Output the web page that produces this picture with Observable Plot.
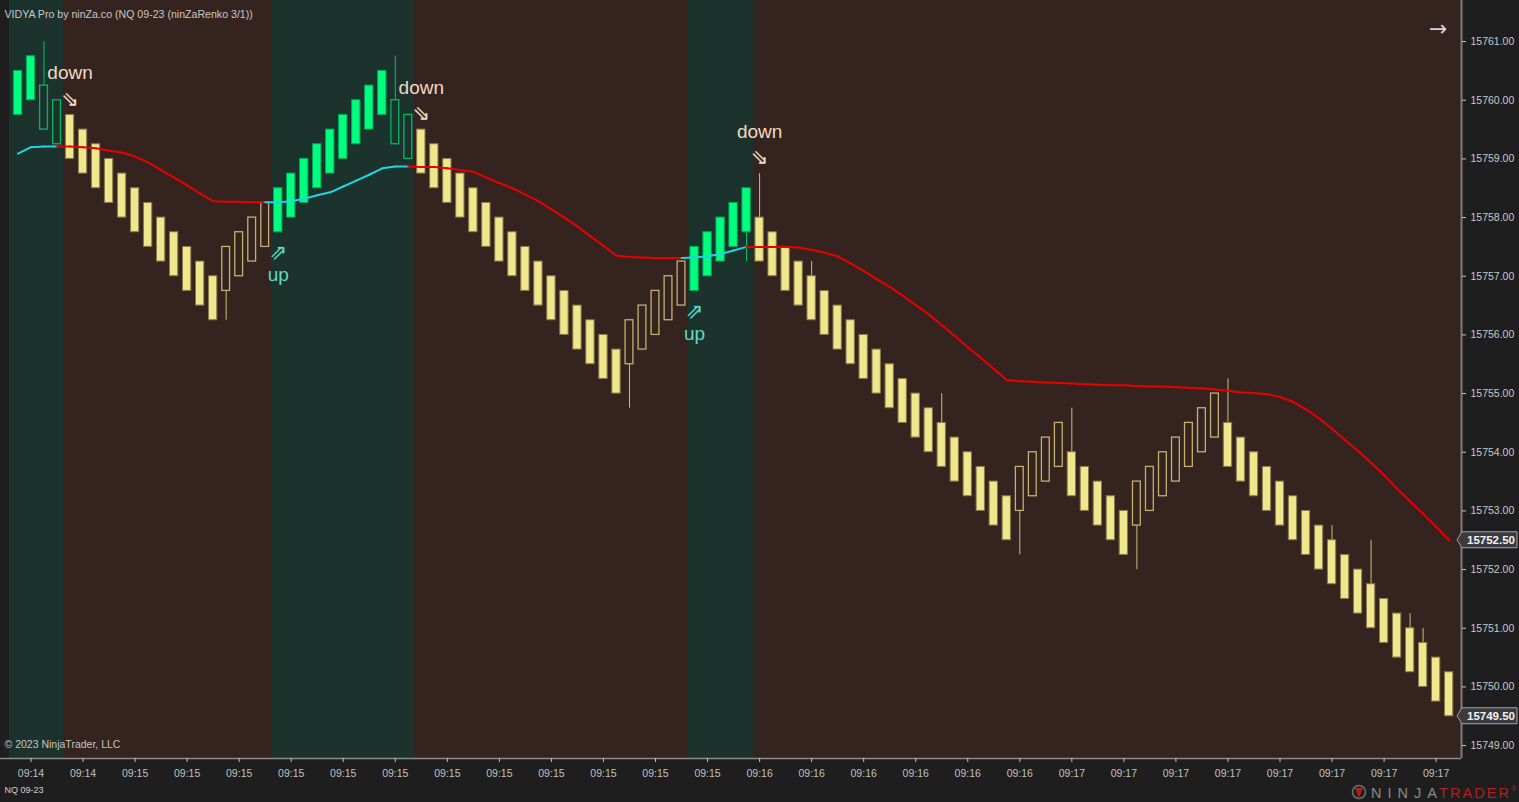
<!DOCTYPE html>
<html><head><meta charset="utf-8">
<script src="https://cdn.jsdelivr.net/npm/d3@7"></script>
<script src="https://cdn.jsdelivr.net/npm/@observablehq/plot@0.6"></script>
<style>
html,body{margin:0;padding:0;background:#1e1e1e;overflow:hidden}
#chart svg{display:block}
</style></head><body><div id="chart"></div>
<script>
// ---- DATA (ninZaRenko 3/1 bricks, NQ 09-23) ----
const opens = [
15759.75,15760.00,15760.25,15760.00,15759.75,15759.50,15759.25,15759.00,15758.75,15758.50,
15758.25,15758.00,15757.75,15757.50,15757.25,15757.00,15756.75,15757.00,15757.25,15757.50,
15757.75,15758.00,15758.25,15758.50,15758.75,15759.00,15759.25,15759.50,15759.75,15760.00,
15759.75,15759.50,15759.25,15759.00,15758.75,15758.50,15758.25,15758.00,15757.75,15757.50,
15757.25,15757.00,15756.75,15756.50,15756.25,15756.00,15755.75,15755.50,15755.75,15756.00,
15756.25,15756.50,15756.75,15757.00,15757.25,15757.50,15757.75,15758.00,15757.75,15757.50,
15757.25,15757.00,15756.75,15756.50,15756.25,15756.00,15755.75,15755.50,15755.25,15755.00,
15754.75,15754.50,15754.25,15754.00,15753.75,15753.50,15753.25,15753.00,15753.25,15753.50,
15753.75,15754.00,15753.75,15753.50,15753.25,15753.00,15752.75,15753.00,15753.25,15753.50,
15753.75,15754.00,15754.25,15754.50,15754.25,15754.00,15753.75,15753.50,15753.25,15753.00,
15752.75,15752.50,15752.25,15752.00,15751.75,15751.50,15751.25,15751.00,15750.75,15750.50,
15750.25];
const closes = [
15760.50,15760.75,15759.50,15759.25,15759.00,15758.75,15758.50,15758.25,15758.00,15757.75,
15757.50,15757.25,15757.00,15756.75,15756.50,15756.25,15757.50,15757.75,15758.00,15758.25,
15758.50,15758.75,15759.00,15759.25,15759.50,15759.75,15760.00,15760.25,15760.50,15759.25,
15759.00,15758.75,15758.50,15758.25,15758.00,15757.75,15757.50,15757.25,15757.00,15756.75,
15756.50,15756.25,15756.00,15755.75,15755.50,15755.25,15755.00,15756.25,15756.50,15756.75,
15757.00,15757.25,15757.50,15757.75,15758.00,15758.25,15758.50,15757.25,15757.00,15756.75,
15756.50,15756.25,15756.00,15755.75,15755.50,15755.25,15755.00,15754.75,15754.50,15754.25,
15754.00,15753.75,15753.50,15753.25,15753.00,15752.75,15752.50,15753.75,15754.00,15754.25,
15754.50,15753.25,15753.00,15752.75,15752.50,15752.25,15753.50,15753.75,15754.00,15754.25,
15754.50,15754.75,15755.00,15753.75,15753.50,15753.25,15753.00,15752.75,15752.50,15752.25,
15752.00,15751.75,15751.50,15751.25,15751.00,15750.75,15750.50,15750.25,15750.00,15749.75,
15749.50];
const wickBars = [2, 16, 29, 47, 56, 57, 61, 71, 77, 81, 86, 93, 101, 104, 107, 108];
const wickEnds = [15761.00,15756.25,15760.75,15754.75,15757.25,15758.75,15757.25,15755.00,
                  15752.25,15754.75,15752.00,15755.25,15752.75,15752.50,15751.25,15751.00];
const vidya = [
15759.09,15759.20,15759.21,15759.21,15759.21,15759.20,15759.18,15759.14,15759.11,15759.04,
15758.94,15758.81,15758.68,15758.55,15758.41,15758.28,15758.27,15758.27,15758.26,15758.26,
15758.26,15758.28,15758.32,15758.38,15758.43,15758.53,15758.63,15758.73,15758.84,15758.87,
15758.87,15758.86,15758.86,15758.84,15758.81,15758.78,15758.68,15758.59,15758.50,15758.39,
15758.28,15758.14,15758.00,15757.85,15757.68,15757.52,15757.35,15757.33,15757.32,15757.31,
15757.31,15757.31,15757.32,15757.34,15757.38,15757.44,15757.50,15757.50,15757.50,15757.50,
15757.49,15757.45,15757.40,15757.34,15757.22,15757.09,15756.95,15756.82,15756.67,15756.51,
15756.35,15756.17,15755.98,15755.79,15755.61,15755.42,15755.23,15755.21,15755.20,15755.19,
15755.18,15755.17,15755.16,15755.15,15755.14,15755.14,15755.13,15755.12,15755.12,15755.11,
15755.10,15755.09,15755.07,15755.05,15755.02,15755.01,15754.99,15754.94,15754.86,15754.73,
15754.58,15754.40,15754.21,15754.02,15753.82,15753.61,15753.38,15753.16,15752.95,15752.73,
15752.50];
const trendRuns = [["up",0,3],["down",4,19],["up",20,30],["down",31,51],["up",52,56],["down",57,110]];
const downSignals = [4, 31, 57];
const upSignals = [20, 52];
const tickBars = [1,5,9,13,17,21,25,29,33,37,41,45,49,53,57,61,65,69,73,77,81,85,89,93,97,101,105,109];
const tickLabels = ["09:14","09:14","09:15","09:15","09:15","09:15","09:15","09:15","09:15","09:15",
  "09:15","09:15","09:15","09:15","09:16","09:16","09:16","09:16","09:16","09:16",
  "09:17","09:17","09:17","09:17","09:17","09:17","09:17","09:17"];
const priceTicks = [15749,15750,15751,15752,15753,15754,15755,15756,15757,15758,15759,15760,15761];
const title = "VIDYA Pro by ninZa.co (NQ 09-23 (ninZaRenko 3/1))";

// ---- build ----
const n = opens.length;
const xDomain = [-1.345, 110.95];
const yDomain = [15748.78, 15761.70];
const trendOf = new Array(n);
for (const [t, a, b] of trendRuns) for (let i = a; i <= b; i++) trendOf[i] = t;
const bars = opens.map((o, i) => {
  const c = closes[i];
  const up = c > o;
  return {i, open: o, close: c, trend: trendOf[i], up, filled: up === (trendOf[i] === "up"),
          high: Math.max(o, c), low: Math.min(o, c)};
});
const wicks = wickBars.map((i, k) => {
  const b = bars[i], e = wickEnds[k];
  const from = e > b.high ? b.high : b.low;
  if (e > b.high) b.high = e; else b.low = e;
  return {i, y1: from, y2: e, trend: b.trend};
});
const bands = trendRuns.map(([t, a, b], k) => ({t,
  x1: k === 0 ? a - 0.65 : a - 0.5,
  x2: b === n - 1 ? xDomain[1] : b + 0.5}));
const segs = vidya.slice(1).map((v, k) => ({x1: k, y1: vidya[k], x2: k + 1, y2: v, trend: trendOf[k + 1]}));
const labelMap = new Map(tickBars.map((b, k) => [b, tickLabels[k]]));

const C = {
  bandUp: "#1b332c", bandDn: "#34231e",
  upFill: "#00ff7f", upStroke: "#00a857", upHollow: "#00b862",
  dnFill: "#f0e68c", dnStroke: "#857849", dnHollow: "#c2b170",
  upWick: "#00c46a", dnWick: "#cbbd7a",
  red: "#e80000", cyan: "#22d3e6", downTxt: "#f3d8c2", upTxt: "#62d9c6"
};
const FONT = "'Liberation Sans', Arial, sans-serif";

const chart = Plot.plot({
  width: 1519, height: 802,
  marginLeft: 0, marginRight: 58, marginTop: 0, marginBottom: 44,
  x: {domain: xDomain},
  y: {domain: yDomain},
  color: {type: "identity"},
  style: {background: "#1e1e1e", color: "#c8c8c8", fontFamily: FONT, fontSize: "10.5px"},
  marks: [
    Plot.rect(bands, {x1: "x1", x2: "x2", y1: yDomain[0], y2: yDomain[1],
      fill: d => d.t === "up" ? C.bandUp : C.bandDn, shapeRendering: "crispEdges"}),
    Plot.ruleX(wicks, {x: "i", y1: "y1", y2: "y2", stroke: d => d.trend === "up" ? C.upWick : C.dnWick, strokeWidth: 1}),
    Plot.rect(bars.filter(d => d.filled), {
      x1: d => d.i - 0.32, x2: d => d.i + 0.32, y1: "open", y2: "close",
      fill: d => d.trend === "up" ? C.upFill : C.dnFill,
      stroke: d => d.trend === "up" ? C.upStroke : C.dnStroke, strokeWidth: 1}),
    Plot.rect(bars.filter(d => !d.filled), {
      x1: d => d.i - 0.3, x2: d => d.i + 0.3, y1: "open", y2: "close",
      fill: "none",
      stroke: d => d.trend === "up" ? C.upHollow : C.dnHollow, strokeWidth: 1.3}),
    Plot.link(segs, {x1: "x1", y1: "y1", x2: "x2", y2: "y2",
      stroke: d => d.trend === "up" ? C.cyan : C.red, strokeWidth: 2, strokeLinecap: "round"}),
    Plot.text(downSignals, {x: d => d, y: d => bars[d].high, text: () => "down", dy: -41.5,
      fill: C.downTxt, fontSize: 19, fontFamily: FONT}),
    Plot.text(downSignals, {x: d => d, y: d => bars[d].high, text: () => "⇘", dy: -16,
      fill: C.downTxt, stroke: "#7a5a48", strokeWidth: 0.4, fontSize: 21, fontFamily: "DejaVu Sans"}),
    Plot.text(upSignals, {x: d => d, y: d => bars[d].low, text: () => "up", dy: 43,
      fill: C.upTxt, fontSize: 19, fontFamily: FONT}),
    Plot.text(upSignals, {x: d => d, y: d => bars[d].low, text: () => "⇗", dy: 20,
      fill: C.upTxt, stroke: "#2f7f74", strokeWidth: 0.4, fontSize: 21, fontFamily: "DejaVu Sans"}),
    Plot.ruleY([yDomain[0]], {stroke: "#8a8a8a", strokeWidth: 1.5}),
    Plot.ruleX([xDomain[1]], {stroke: "#7c7c7c", strokeWidth: 2}),
    Plot.axisY({anchor: "right", ticks: priceTicks, tickFormat: d3.format(".2f"),
      tickSize: 4, tickPadding: 5, label: null, fontSize: 10.5, color: "#c8c8c8"}),
    Plot.axisX({anchor: "bottom", ticks: tickBars, tickFormat: d => labelMap.get(d),
      tickSize: 4, tickPadding: 7, label: null, fontSize: 10.5, color: "#c0c0c0"}),
    Plot.text([title], {frameAnchor: "top-left", dx: 4, dy: 10, textAnchor: "start",
      fill: "#c8c8c8", fontSize: 10.6, fontFamily: FONT}),
    Plot.text(["© 2023 NinjaTrader, LLC"], {frameAnchor: "bottom-left", dx: 4, dy: -11, textAnchor: "start",
      fill: "#c4c4c4", fontSize: 10.5, fontFamily: FONT}),
    Plot.text(["NQ 09-23"], {frameAnchor: "bottom-left", dx: 4, dy: 34, textAnchor: "start",
      fill: "#d0d0d0", fontSize: 9, fontFamily: FONT}),
    Plot.text(["→"], {frameAnchor: "top-right", dx: -14, dy: 20,
      fill: "#d4d4d4", fontSize: 22, fontFamily: "DejaVu Sans"})
  ]
});
document.getElementById("chart").appendChild(chart);

// ---- price markers and logo ----
const svg = d3.select(chart);
const yS = chart.scale("y");
const markers = [vidya[n - 1], closes[n - 1]];
for (const v of markers) {
  const y = yS.apply(v);
  const g = svg.append("g");
  g.append("path")
    .attr("d", `M1457,${y} L1462,${y - 8} L1517,${y - 8} L1517,${y + 8} L1462,${y + 8} Z`)
    .attr("fill", "#3a3b40").attr("stroke", "#a4a4a4").attr("stroke-width", 1);
  g.append("text").attr("x", 1491).attr("y", y).attr("dy", "0.35em")
    .attr("text-anchor", "middle").attr("fill", "#f2f2f2")
    .attr("font-family", FONT).attr("font-size", 11.5).attr("font-weight", "bold")
    .text(d3.format(".2f")(v));
}
const logo = svg.append("g").attr("text-anchor", "start");
logo.append("circle").attr("cx", 1359).attr("cy", 792).attr("r", 6.5)
  .attr("fill", "none").attr("stroke", "#6e6e6e").attr("stroke-width", 1.5);
logo.append("path").attr("d", "M1355,788 L1359,798 L1363,788 Z").attr("fill", "#b01e1e");
logo.append("text").attr("x", 1371).attr("y", 798).attr("fill", "#8a8a8a").attr("text-anchor", "start")
  .attr("font-family", FONT).attr("font-size", 14.5).attr("font-weight", 300)
  .attr("textLength", 66).attr("lengthAdjust", "spacing").text("NINJA");
logo.append("text").attr("x", 1439).attr("y", 798).attr("fill", "#b3201f").attr("text-anchor", "start")
  .attr("font-family", FONT).attr("font-size", 14.5)
  .attr("textLength", 70).attr("lengthAdjust", "spacing").text("TRADER");
logo.append("text").attr("x", 1511).attr("y", 791).attr("fill", "#b3201f").attr("text-anchor", "start")
  .attr("font-family", FONT).attr("font-size", 7).text("®");
</script></body></html>
